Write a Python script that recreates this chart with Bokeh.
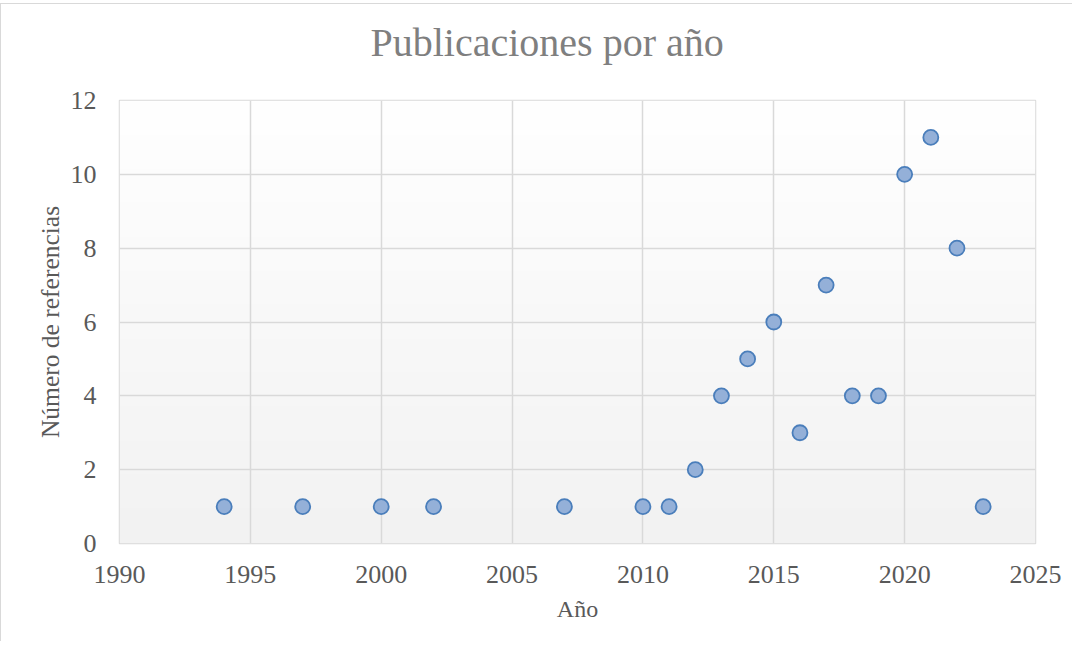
import numpy as np
from bokeh.plotting import figure
from bokeh.models import SingleIntervalTicker, Range1d, Title
from bokeh.embed import file_html
from bokeh.resources import INLINE

# ---- data ----
years = [1994, 1997, 2000, 2002, 2007, 2010, 2011, 2012, 2013, 2014,
         2015, 2016, 2017, 2018, 2019, 2020, 2021, 2022, 2023]
counts = [1, 1, 1, 1, 1, 1, 1, 2, 4, 5, 6, 3, 7, 4, 4, 10, 11, 8, 1]

title_text = "Publicaciones por año"
x_label = "Año"
y_label = "Número de referencias"
X_MIN, X_MAX, X_STEP = 1990, 2025, 5
Y_MIN, Y_MAX, Y_STEP = 0, 12, 2

FONT = "Liberation Serif"
GRID = "#d9d9d9"
TXT = "#595959"

p = figure(width=1072, height=638, output_backend="svg", toolbar_location=None,
           x_range=Range1d(X_MIN, X_MAX), y_range=Range1d(Y_MIN, Y_MAX),
           min_border_left=118, min_border_right=38, min_border_top=96, min_border_bottom=99,
           title=None)
p.styles = {"border-left": "1px solid #d9d9d9", "border-top": "1px solid #d9d9d9", "margin-top": "3px"}

# gradient background for plot area
n = 256
grad = np.zeros((n, 1), dtype=np.uint32)
view = grad.view(dtype=np.uint8).reshape((n, 1, 4))
t = np.linspace(0, 1, n)
lv = (242 + (255 - 242) * t).astype(np.uint8)
view[:, 0, 0] = lv
view[:, 0, 1] = lv
view[:, 0, 2] = lv
view[:, 0, 3] = 255
p.image_rgba(image=[grad], x=X_MIN, y=Y_MIN, dw=X_MAX - X_MIN, dh=Y_MAX - Y_MIN, level="image")

p.background_fill_color = "white"
p.border_fill_color = "white"
p.outline_line_color = GRID
p.outline_line_width = 1.5

# spacer between frame and title, then the title itself (outer)
spacer = Title(text=" ", text_font_size="1px", standoff=26)
p.add_layout(spacer, "above")
main_title = Title(text=title_text, text_font=FONT, text_font_size="40px",
                   text_font_style="normal", text_color="#7f7f7f",
                   align="left", offset=251, vertical_align="top", standoff=10)
p.add_layout(main_title, "above")

for ax in (p.xaxis[0], p.yaxis[0]):
    ax.axis_line_color = None
    ax.major_tick_line_color = None
    ax.minor_tick_line_color = None
    ax.major_tick_out = 0
    ax.major_tick_in = 0
    ax.minor_tick_out = 0
    ax.minor_tick_in = 0
    ax.major_label_text_font = FONT
    ax.major_label_text_font_size = "26px"
    ax.major_label_text_color = TXT
    ax.axis_label_text_font = FONT
    ax.axis_label_text_font_style = "normal"
    ax.axis_label_text_color = TXT

p.xaxis.axis_label_text_font_size = "24px"
p.yaxis.axis_label_text_font_size = "25.5px"
p.xaxis.ticker = SingleIntervalTicker(interval=X_STEP)
p.yaxis.ticker = SingleIntervalTicker(interval=Y_STEP)
p.xaxis.axis_label = x_label
p.yaxis.axis_label = y_label
p.xaxis.major_label_standoff = 22
p.yaxis.major_label_standoff = 23
p.xaxis.axis_label_standoff = 10
p.yaxis.axis_label_standoff = 3

p.xgrid.ticker = SingleIntervalTicker(interval=X_STEP)
p.ygrid.ticker = SingleIntervalTicker(interval=Y_STEP)
p.grid.grid_line_color = GRID
p.grid.grid_line_width = 1.5

p.scatter(years, counts, size=15, marker="circle", fill_color="#94b0d8",
          line_color="#4a7ebb", line_width=1.8)

open("out.html", "w").write(file_html(p, INLINE))
